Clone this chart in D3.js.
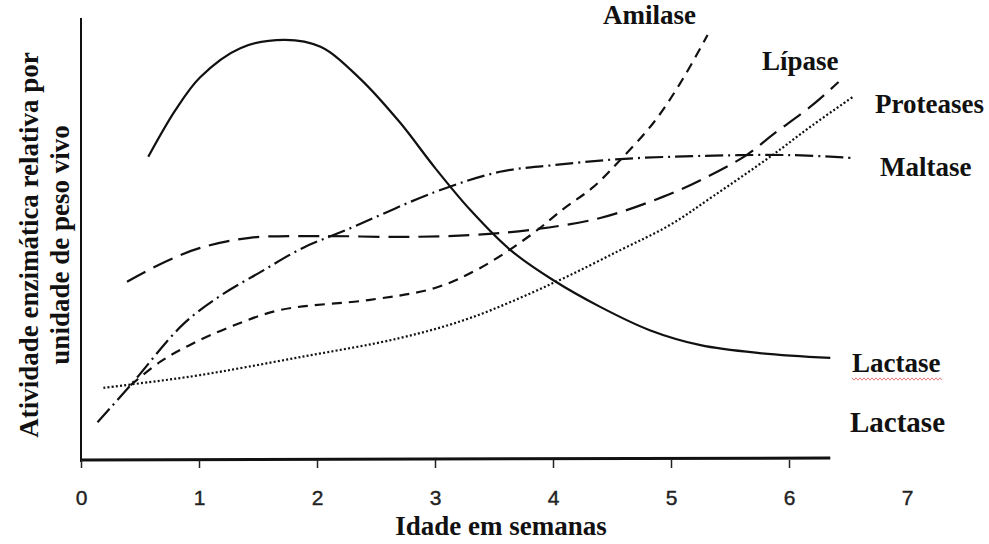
<!DOCTYPE html>
<html>
<head>
<meta charset="utf-8">
<script src="https://cdn.jsdelivr.net/npm/d3@7"></script>
<style>
  body { margin: 0; background: #fff; }
  .lbl { font-family: "Liberation Serif", "Times New Roman", serif; font-weight: bold; fill: #111; }
  .tick text { font-family: "Liberation Sans", Arial, sans-serif; }
</style>
</head>
<body>
<svg id="chart"></svg>
<script>
// week values, activity on a 0-100 relative scale
var lactase = [[0.57,68.9],[0.80,79.5],[1.01,87.0],[1.35,93.6],[1.73,95.5],[2.03,93.9],[2.36,86.8],[2.70,76.8],[3.0,66.4],[3.30,56.8],[3.64,47.7],[4.0,40.9],[4.40,34.8],[4.82,29.5],[5.25,26.1],[5.75,24.3],[6.35,23.2]];
var amilase = [[0.42,17.0],[0.67,22.3],[0.92,26.1],[1.26,30.2],[1.69,34.1],[2.45,36.4],[3.0,39.1],[3.38,43.6],[3.81,51.1],[4.10,57.3],[4.34,62.0],[4.57,68.2],[4.85,76.6],[5.08,85.7],[5.31,96.6]];
var lipase = [[0.39,40.5],[0.71,45.0],[1.01,48.2],[1.43,50.5],[2.03,50.9],[2.70,50.7],[3.30,51.1],[3.81,52.3],[4.40,55.0],[4.93,59.8],[5.25,63.6],[5.64,69.3],[5.86,73.9],[6.20,80.7],[6.42,85.9]];
var proteases = [[0.19,16.4],[0.58,17.7],[1.01,19.3],[1.86,23.4],[2.70,27.7],[3.30,32.3],[4.0,40.2],[4.57,47.7],[4.99,53.4],[5.36,60.0],[5.86,69.3],[6.20,76.1],[6.54,82.5]];
var maltase = [[0.14,8.6],[0.42,17.0],[0.86,30.7],[1.18,37.3],[1.52,42.7],[1.88,48.2],[2.25,52.3],[3.0,60.9],[3.55,65.5],[4.0,67.0],[4.57,68.4],[5.25,69.1],[6.01,69.3],[6.56,68.6]];
var weekTicks = [0, 1, 2, 3, 4, 5, 6, 7];

var width = 989;
var height = 544;

var x = d3.scaleLinear().domain([0, 7]).range([81, 907]);
var y = d3.scaleLinear().domain([0, 100]).range([460, 20]);

var svg = d3.select('#chart')
  .attr('width', width)
  .attr('height', height);

svg.append('rect').attr('width', width).attr('height', height).attr('fill', '#fff');

// axes
svg.append('line')
  .attr('x1', x(0)).attr('x2', x(0))
  .attr('y1', 18).attr('y2', y(0) + 2)
  .attr('stroke', '#111').attr('stroke-width', 2);
svg.append('line')
  .attr('x1', x(0)).attr('x2', x(6.35))
  .attr('y1', y(0)).attr('y2', y(0) - 2)
  .attr('stroke', '#111').attr('stroke-width', 3);

var xAxis = svg.append('g')
  .attr('transform', 'translate(0,' + y(0) + ')')
  .call(d3.axisBottom(x).tickValues(weekTicks).tickSize(8).tickPadding(22).tickFormat(d3.format('d')));
xAxis.select('.domain').remove();
xAxis.selectAll('.tick line').attr('stroke', '#222').attr('stroke-width', 1.5)
  .attr('display', function(d) { return d === 7 ? 'none' : null; });
xAxis.selectAll('.tick text')
  .attr('font-size', 21)
  .attr('fill', '#222')
  .attr('stroke', '#222')
  .attr('stroke-width', 0.4);

// curves
var line = d3.line()
  .x(function(d) { return x(d[0]); })
  .y(function(d) { return y(d[1]); })
  .curve(d3.curveCatmullRom.alpha(0.5));

function drawCurve(data, dash, w) {
  svg.append('path')
    .datum(data)
    .attr('d', line)
    .attr('fill', 'none')
    .attr('stroke', '#111')
    .attr('stroke-width', w)
    .attr('stroke-dasharray', dash);
}

drawCurve(lactase, null, 2.2);
drawCurve(amilase, '10,7', 2.2);
drawCurve(lipase, '21,9', 2.2);
drawCurve(maltase, '18,5,2,5', 2.2);
drawCurve(proteases, '2,2.2', 2.2);

// curve labels
function label(txt, px, py, size) {
  return svg.append('text')
    .attr('class', 'lbl')
    .attr('x', px).attr('y', py)
    .attr('font-size', size)
    .text(txt);
}
label('Amilase', 603, 24, 27);
label('Lípase', 762, 70, 27);
label('Proteases', 875, 113, 27);
label('Maltase', 880, 176, 27);
label('Lactase', 852, 372, 27);
// wavy underline under first Lactase
var wave = [];
for (var i = 0; i <= 45; i++) wave.push([852 + i * 2, 379 + (i % 2 ? 1.2 : -1.2)]);
svg.append('path')
  .attr('d', d3.line()(wave))
  .attr('fill', 'none').attr('stroke', '#e05a5a').attr('stroke-width', 0.8);
label('Lactase', 850, 432, 29);

// axis titles
svg.append('text')
  .attr('class', 'lbl')
  .attr('x', 501).attr('y', 535)
  .attr('text-anchor', 'middle')
  .attr('font-size', 27)
  .text('Idade em semanas');

var yt = svg.append('g').attr('transform', 'translate(38,245) rotate(-90)');
yt.append('text')
  .attr('class', 'lbl')
  .attr('text-anchor', 'middle')
  .attr('font-size', 27)
  .text('Atividade enzimática relativa por');
yt.append('text')
  .attr('class', 'lbl')
  .attr('y', 31)
  .attr('text-anchor', 'middle')
  .attr('font-size', 27)
  .text('unidade de peso vivo');
</script>
</body>
</html>
